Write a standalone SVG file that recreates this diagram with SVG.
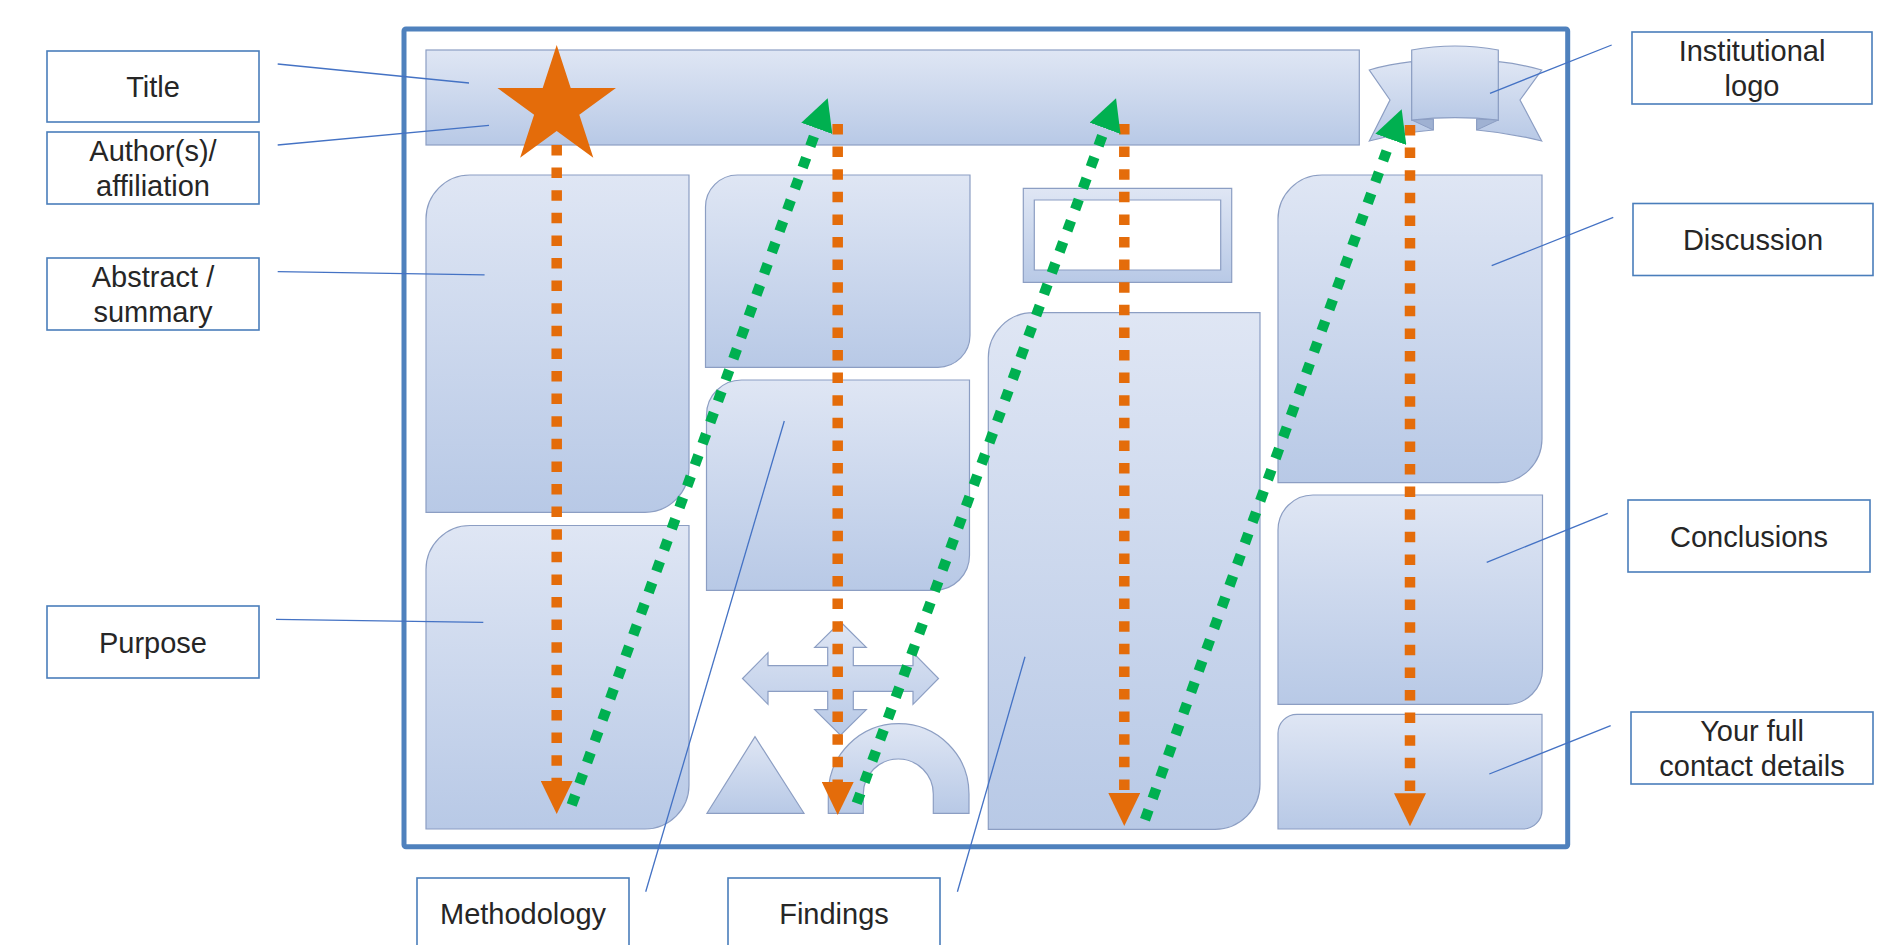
<svg xmlns="http://www.w3.org/2000/svg" width="1890" height="945" viewBox="0 0 1890 945">
  <defs>
    <linearGradient id="panelFill" x1="0" y1="0" x2="0" y2="1">
      <stop offset="0" stop-color="#dfe6f4"/>
      <stop offset="1" stop-color="#b8c9e6"/>
    </linearGradient>
    <marker id="headOrange" viewBox="0 -16 33 32" refX="0" refY="0" markerWidth="33" markerHeight="32" markerUnits="userSpaceOnUse" orient="auto">
      <path d="M0,-16 L33,0 L0,16 Z" fill="#e46c0a"/>
    </marker>
    <marker id="headGreen" viewBox="0 -16.5 32 33" refX="0" refY="0" markerWidth="32" markerHeight="33" markerUnits="userSpaceOnUse" orient="auto">
      <path d="M0,-16.5 L32,0 L0,16.5 Z" fill="#00b050"/>
    </marker>
    <style>
      .panel { fill: url(#panelFill); stroke: #8c9ec3; stroke-width: 1.2; }
      .fold { fill: #9fb1d2; stroke: #8c9ec3; stroke-width: 1; }
      .label rect { fill: #ffffff; stroke: #4a7ebb; stroke-width: 1.6; }
      .label text { font-family: "Liberation Sans", Arial, sans-serif; font-size: 29px; fill: #262626; text-anchor: middle; }
      .leader { stroke: #4472c4; stroke-width: 1.3; fill: none; }
      .flowDown { stroke: #e46c0a; stroke-width: 10.5; stroke-dasharray: 10.5 12.1; fill: none; marker-end: url(#headOrange); }
      .flowUp { stroke: #00b050; stroke-width: 10.5; stroke-dasharray: 10.5 12.1; fill: none; marker-end: url(#headGreen); }
    </style>
  </defs>

  <rect width="1890" height="945" fill="#ffffff"/>

  <!-- poster outline -->
  <g id="poster-frame">
    <rect x="404" y="29" width="1163.7" height="817.7" rx="2" fill="#ffffff" stroke="#4f81bd" stroke-width="5"/>
  </g>

  <!-- poster panels -->
  <g id="title-bar"><rect class="panel" x="426" y="50" width="933.3" height="95"/></g>
  <g id="panel-abstract"><path class="panel" d="M470,175 H689 V468.3 A44,44 0 0 1 645,512.3 H426 V219 A44,44 0 0 1 470,175 Z"/></g>
  <g id="panel-purpose"><path class="panel" d="M470,525.5 H689 V785 A44,44 0 0 1 645,829 H426 V569.5 A44,44 0 0 1 470,525.5 Z"/></g>
  <g id="panel-col2-top"><path class="panel" d="M737.5,175 H970 V335.3 A32,32 0 0 1 938,367.3 H705.5 V207 A32,32 0 0 1 737.5,175 Z"/></g>
  <g id="panel-methodology"><path class="panel" d="M741.5,380 H969.5 V555.3 A35,35 0 0 1 934.5,590.3 H706.5 V415 A35,35 0 0 1 741.5,380 Z"/></g>
  <g id="quad-arrow"><path class="panel" d="M840.5,621.8 L866.3,647.3 L853.3,647.3 L853.3,665.7 L913,665.7 L913,652.7 L938.5,678.5 L913,704.3 L913,691.3 L853.3,691.3 L853.3,709.7 L866.3,709.7 L840.5,735.2 L814.7,709.7 L827.7,709.7 L827.7,691.3 L768,691.3 L768,704.3 L742.5,678.5 L768,652.7 L768,665.7 L827.7,665.7 L827.7,647.3 L814.7,647.3 Z"/></g>
  <g id="triangle"><path class="panel" d="M707,813.3 L755,736.7 L804,813.3 Z"/></g>
  <g id="block-arc"><path class="panel" d="M828.3,813.3 V794 A70.3,70.3 0 0 1 969,794 V813.3 H933.3 V794 A35,35 0 0 0 863.3,794 V813.3 Z"/></g>
  <g id="picture-frame"><path class="panel" fill-rule="evenodd" d="M1023.3,188.3 H1231.7 V282.3 H1023.3 Z M1034.3,200 V270 H1220.7 V200 Z"/></g>
  <g id="panel-findings"><path class="panel" d="M1033.3,312.7 H1260 V784.3 A45,45 0 0 1 1215,829.3 H988.3 V357.7 A45,45 0 0 1 1033.3,312.7 Z"/></g>
  <g id="panel-discussion"><path class="panel" d="M1322,175 H1542 V438.7 A44,44 0 0 1 1498,482.7 H1278 V219 A44,44 0 0 1 1322,175 Z"/></g>
  <g id="panel-conclusions"><path class="panel" d="M1313,495 H1542.5 V669.3 A35,35 0 0 1 1507.5,704.3 H1278 V530 A35,35 0 0 1 1313,495 Z"/></g>
  <g id="panel-contact"><path class="panel" d="M1297,714.3 H1542 V810 A19,19 0 0 1 1523,829 H1278 V733.3 A19,19 0 0 1 1297,714.3 Z"/></g>
  <g id="logo-ribbon">
    <path class="panel" d="M1369.3,70 Q1390,64 1411.7,61.7 L1411.7,120 L1433.3,119 L1433.3,130 Q1400,133 1369.3,141 L1390,100 Z"/>
    <path class="panel" d="M1541.7,70 Q1521,64 1498.3,61.7 L1498.3,120 L1476.7,119 L1476.7,130 Q1510,133 1541.7,141 L1520,100 Z"/>
    <path class="fold" d="M1411.7,120 L1433.3,119 L1433.3,130 Z"/>
    <path class="fold" d="M1498.3,120 L1476.7,119 L1476.7,130 Z"/>
    <path class="panel" d="M1411.7,50 Q1455,42 1498.3,50 L1498.3,120 Q1455,115.4 1411.7,120 Z"/>
  </g>

  <!-- label boxes -->
  <g id="label-title" class="label"><rect x="47" y="51" width="212" height="71"/><text x="153" y="97">Title</text></g>
  <g id="label-authors" class="label"><rect x="47" y="132" width="212" height="72"/><text x="153" y="161">Author(s)/</text><text x="153" y="195.5">affiliation</text></g>
  <g id="label-abstract" class="label"><rect x="47" y="258" width="212" height="72"/><text x="153" y="287">Abstract /</text><text x="153" y="321.5">summary</text></g>
  <g id="label-purpose" class="label"><rect x="47" y="606" width="212" height="72"/><text x="153" y="652.5">Purpose</text></g>
  <g id="label-methodology" class="label"><rect x="417" y="878" width="212" height="72"/><text x="523" y="924">Methodology</text></g>
  <g id="label-findings" class="label"><rect x="728" y="878" width="212" height="72"/><text x="834" y="924">Findings</text></g>
  <g id="label-logo" class="label"><rect x="1632" y="32" width="240" height="72"/><text x="1752" y="61">Institutional</text><text x="1752" y="95.5">logo</text></g>
  <g id="label-discussion" class="label"><rect x="1633" y="203.5" width="240" height="72"/><text x="1753" y="250">Discussion</text></g>
  <g id="label-conclusions" class="label"><rect x="1628" y="500" width="242" height="72"/><text x="1749" y="546.5">Conclusions</text></g>
  <g id="label-contact" class="label"><rect x="1631" y="712" width="242" height="72"/><text x="1752" y="741">Your full</text><text x="1752" y="775.5">contact details</text></g>

  <!-- connectors: leader lines and reading-order arrows -->
  <g id="connectors">
    <line class="leader" x1="277.7" y1="64" x2="469" y2="83"/>
    <line class="leader" x1="277.7" y1="145" x2="489" y2="125.3"/>
    <line class="leader" x1="277.7" y1="271.7" x2="484.6" y2="274.8"/>
    <line class="leader" x1="276" y1="619.3" x2="483.3" y2="622.3"/>
    <line class="leader" x1="645.7" y1="891.7" x2="784.3" y2="421"/>
    <line class="leader" x1="957.4" y1="891.7" x2="1025" y2="656.7"/>
    <line class="leader" x1="1611.7" y1="45" x2="1490" y2="93.3"/>
    <line class="leader" x1="1613.3" y1="217.3" x2="1491.7" y2="265.7"/>
    <line class="leader" x1="1607.7" y1="513.3" x2="1486.7" y2="562.3"/>
    <line class="leader" x1="1610.7" y1="725.7" x2="1489.3" y2="774"/>

    <line class="flowDown" x1="556.7" y1="145" x2="556.7" y2="781"/>
    <line class="flowDown" x1="837.7" y1="124" x2="837.7" y2="782"/>
    <line class="flowDown" x1="1124.3" y1="124" x2="1124.3" y2="793"/>
    <line class="flowDown" x1="1410" y1="125" x2="1410" y2="793.3"/>

    <line class="flowUp" x1="571.7" y1="805" x2="816.8" y2="128.4"/>
    <line class="flowUp" x1="856.7" y1="803.3" x2="1105" y2="128.3"/>
    <line class="flowUp" x1="1145" y1="819.7" x2="1390.8" y2="139.4"/>
  </g>

  <!-- star marker on the title bar -->
  <g id="star">
    <polygon points="556.7,45 570.7,88.05 615.95,88.05 579.3,114.65 593.3,157.7 556.7,131.1 520.1,157.7 534.1,114.65 497.45,88.05 542.7,88.05" fill="#e46c0a"/>
  </g>
</svg>
